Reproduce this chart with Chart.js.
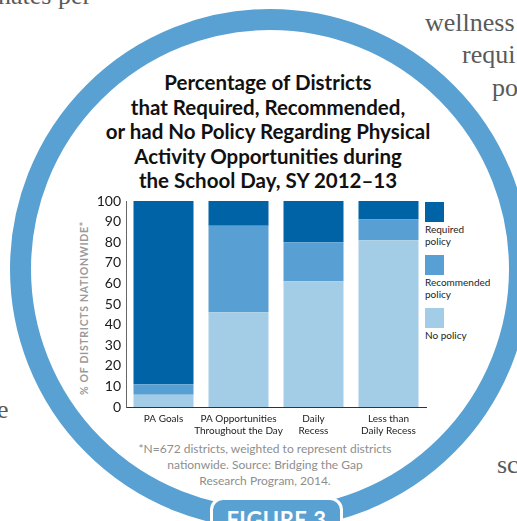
<!DOCTYPE html>
<html>
<head>
<meta charset="utf-8">
<script src="https://cdn.jsdelivr.net/npm/chart.js@4"></script>
<style>
    * {
        margin: 0;
        padding: 0;
    }

    body {
        width: 517px;
        height: 521px;
        overflow: hidden;
        background: #fff;
        position: relative;
        font-family: Lato, "Open Sans", sans-serif;
    }

    .page-text {
        position: absolute;
        font-family: "Liberation Serif", serif;
        font-size: 26px;
        color: #5a5a5a;
        white-space: nowrap;
        line-height: 1;
    }

    .ring {
        position: absolute;
        left: 10px;
        top: 9px;
        width: 520px;
        height: 520px;
        box-sizing: border-box;
        border: 21px solid #5aa1d3;
        border-radius: 50%;
    }

    .title {
        position: absolute;
        left: 68px;
        top: 70px;
        width: 400px;
        text-align: center;
        font-weight: bold;
        font-size: 20.5px;
        line-height: 24.5px;
        color: #111;
    }

    .y-title {
        position: absolute;
        left: 84px;
        top: 308px;
        width: 220px;
        text-align: center;
        transform: translate(-50%, -50%) rotate(-90deg);
        font-weight: bold;
        font-size: 10.5px;
        letter-spacing: 0.7px;
        color: #9a9a9a;
        white-space: nowrap;
    }

    .legend-item {
        position: absolute;
        left: 425px;
        font-size: 10px;
        line-height: 12px;
        color: #222;
    }

    .legend-item .swatch {
        width: 19px;
        height: 20px;
        margin-bottom: 1px;
    }

    .note {
        position: absolute;
        left: 115px;
        top: 441px;
        width: 300px;
        text-align: center;
        font-size: 12px;
        line-height: 16px;
        color: #8e8e8e;
    }

    .tab {
        position: absolute;
        left: 210px;
        top: 497px;
        width: 133px;
        height: 44px;
        box-sizing: border-box;
        background: #5aa1d3;
        border: 3px solid #fff;
        border-radius: 13px;
        color: #fff;
        font-weight: bold;
        font-size: 22px;
        text-align: center;
        padding-top: 6px;
        letter-spacing: 0.5px;
    }

    #wrap {
        position: absolute;
        left: 0;
        top: 0;
        width: 517px;
        height: 521px;
    }
</style>
</head>
<body>

<div class="page-text" style="left:-2px; top:-17px;">nates per</div>
<div class="page-text" style="left:425px; top:10px;">wellness</div>
<div class="page-text" style="left:462px; top:42px;">requi</div>
<div class="page-text" style="left:492px; top:75px;">po</div>
<div class="page-text" style="left:-3px; top:397px;">e</div>
<div class="page-text" style="left:497px; top:452px;">sc</div>

<div class="ring"></div>

<div class="title">Percentage of Districts<br>that Required, Recommended,<br>or had No Policy Regarding Physical<br>Activity Opportunities during<br>the School Day, SY 2012–13</div>

<div class="y-title">% OF DISTRICTS NATIONWIDE*</div>

<div id="legend"></div>

<div class="note">*N=672 districts, weighted to represent districts<br>nationwide. Source: Bridging the Gap<br>Research Program, 2014.</div>

<div class="tab">FIGURE 3</div>

<div id="wrap"><canvas id="chart" width="517" height="521"></canvas></div>

<script>
// chart data
const categories = [
    ["PA Goals"],
    ["PA Opportunities", "Throughout the Day"],
    ["Daily", "Recess"],
    ["Less than", "Daily Recess"]
];
const noPolicy = [6, 46, 61, 81];
const recommendedPolicy = [5, 42, 19, 10];
const requiredPolicy = [89, 12, 20, 9];

const seriesNames = ["No policy", "Recommended policy", "Required policy"];
const seriesColors = ["#a3cde6", "#58a0d4", "#0063a6"];
const legendLines = [["Required", "policy"], ["Recommended", "policy"], ["No policy"]];
const legendColors = ["#0063a6", "#58a0d4", "#a3cde6"];

const yMin = 0;
const yMax = 100;
const yStep = 10;


//  LEGEND  //
const legend = document.getElementById("legend");
legendLines.forEach((lines, i) => {
    const item = document.createElement("div");
    item.className = "legend-item";
    item.style.top = (202 + i * 53) + "px";
    item.innerHTML = `<div class="swatch" style="background:${legendColors[i]}"></div>${lines.join("<br>")}`;
    legend.appendChild(item);
});


//  CHART  //
const ctx = document.getElementById("chart").getContext("2d");
new Chart(ctx, {
    type: "bar",
    data: {
        labels: categories,
        datasets: [
            { label: seriesNames[0], data: noPolicy, backgroundColor: seriesColors[0] },
            { label: seriesNames[1], data: recommendedPolicy, backgroundColor: seriesColors[1] },
            { label: seriesNames[2], data: requiredPolicy, backgroundColor: seriesColors[2] }
        ]
    },
    options: {
        responsive: false,
        animation: false,
        layout: {
            padding: { left: 70, right: 91, top: 201, bottom: 74 }
        },
        datasets: {
            bar: { barPercentage: 0.8, categoryPercentage: 1.0, borderWidth: 0 }
        },
        plugins: {
            legend: { display: false },
            tooltip: { enabled: false },
            title: { display: false }
        },
        scales: {
            x: {
                stacked: true,
                grid: { display: false, drawTicks: false },
                border: { display: true, color: "#333", width: 1 },
                ticks: {
                    color: "#222",
                    font: { family: "Lato", size: 10 },
                    padding: 6,
                    maxRotation: 0,
                    autoSkip: false
                },
                afterFit: (scale) => { scale.height = 40; }
            },
            y: {
                stacked: true,
                min: yMin,
                max: yMax,
                grid: { display: false, drawTicks: false },
                border: { display: true, color: "#666", width: 1 },
                ticks: {
                    stepSize: yStep,
                    color: "#1a1a1a",
                    font: { family: "Lato", size: 14 },
                    padding: 5
                },
                afterFit: (scale) => { scale.width = 56; }
            }
        }
    }
});
</script>
</body>
</html>
